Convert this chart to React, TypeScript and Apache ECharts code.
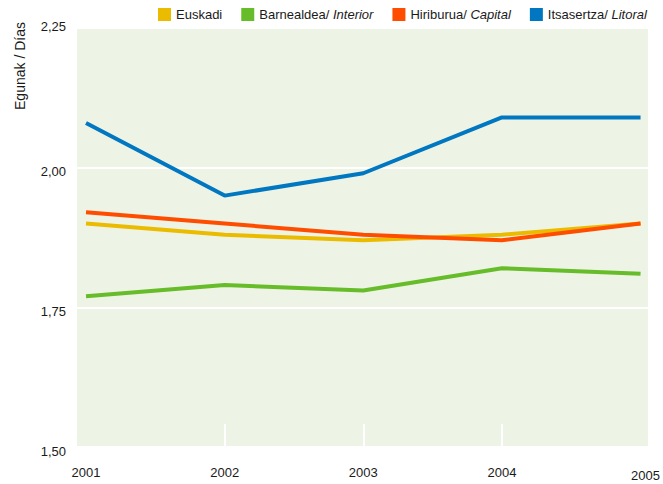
import React, { useEffect, useRef } from "react";
import * as echarts from "echarts";

const years = [2001, 2002, 2003, 2004, 2005];
const euskadi = [1.9, 1.88, 1.87, 1.88, 1.9];
const barnealdea = [1.77, 1.79, 1.78, 1.82, 1.81];
const hiriburua = [1.92, 1.9, 1.88, 1.87, 1.9];
const itsasertza = [2.08, 1.95, 1.99, 2.09, 2.09];
const yTicks = [1.5, 1.75, 2.0, 2.25];
const tickYears = [2002, 2003, 2004];

const FONT = "'Liberation Sans', Arial, sans-serif";
const FS = 13;
const TXT = "#1a1a1a";

export default function App() {
  const ref = useRef<HTMLDivElement>(null);
  useEffect(() => {
    if (!ref.current) return;
    const chart = echarts.init(ref.current, undefined, { renderer: "svg" });
    const mk = (name: string, vals: number[], color: string) => ({
      name,
      type: "line",
      data: years.map((y, i) => [y, vals[i]]),
      showSymbol: false,
      symbol: "none",
      lineStyle: { color, width: 4 },
      itemStyle: { color },
      emphasis: { disabled: true },
    });
    const lbl = { fontFamily: FONT, fontSize: FS, color: TXT };
    chart.setOption({
      animation: false,
      textStyle: { fontFamily: FONT },
      grid: {
        left: 77,
        right: 12,
        top: 28,
        bottom: 37,
        show: true,
        backgroundColor: "#EEF4E5",
        borderWidth: 0,
      },
      legend: {
        left: 158,
        top: 8,
        width: 500,
        padding: 0,
        icon: "rect",
        itemWidth: 13,
        itemHeight: 13,
        itemGap: 19,
        textStyle: {
          ...lbl,
          rich: {
            n: { ...lbl },
            i: { ...lbl, fontStyle: "italic" },
          },
        },
        formatter: (name: string) => {
          const idx = name.indexOf("/ ");
          if (idx < 0) return "{n|" + name + "}";
          return "{n|" + name.slice(0, idx + 2) + "}{i|" + name.slice(idx + 2) + "}";
        },
        data: ["Euskadi", "Barnealdea/ Interior", "Hiriburua/ Capital", "Itsasertza/ Litoral"],
      },
      xAxis: {
        type: "value",
        min: 2000.935,
        max: 2005.054,
        axisLine: { show: false },
        splitLine: { show: false },
        axisTick: {
          show: true,
          inside: true,
          length: 23,
          lineStyle: { color: "#ffffff", width: 2 },
          customValues: tickYears,
        },
        axisLabel: {
          customValues: years,
          margin: 17,
          ...lbl,
          formatter: (v: number) => {
            const s = String(Math.round(v));
            return Math.round(v) === years[years.length - 1] ? "{e|" + s + "}" : "{d|" + s + "}";
          },
          rich: {
            d: { ...lbl, padding: [2, 0, 0, 0] },
            e: { ...lbl, padding: [5, 0, 0, 10] },
          },
        },
      },
      yAxis: {
        type: "value",
        min: 1.5,
        max: 2.25,
        interval: 0.25,
        axisLine: { show: false },
        axisTick: { show: false },
        splitLine: { show: true, lineStyle: { color: "#ffffff", width: 2 } },
        axisLabel: {
          customValues: yTicks,
          margin: 11,
          ...lbl,
          formatter: (v: number) => {
            const s = v.toFixed(2).replace(".", ",");
            return v === yTicks[yTicks.length - 1] ? "{t|" + s + "}" : "{d|" + s + "}";
          },
          rich: {
            t: { ...lbl, padding: [0, 0, 4, 0] },
            d: { ...lbl, padding: [8, 0, 0, 0] },
          },
        },
      },
      graphic: [
        {
          type: "text",
          x: 20,
          y: 66,
          rotation: Math.PI / 2,
          style: {
            text: "Egunak / Días",
            fontFamily: FONT,
            fontSize: 14,
            fill: TXT,
            align: "center",
            verticalAlign: "middle",
          },
        },
      ],
      series: [
        mk("Euskadi", euskadi, "#EBBB00"),
        mk("Barnealdea/ Interior", barnealdea, "#66BC29"),
        mk("Hiriburua/ Capital", hiriburua, "#FF4D00"),
        mk("Itsasertza/ Litoral", itsasertza, "#0077C0"),
      ],
    });
    return () => chart.dispose();
  }, []);
  return (
    <div
      ref={ref}
      style={{ position: "absolute", left: 0, top: 0, width: 663, height: 484 }}
    />
  );
}
